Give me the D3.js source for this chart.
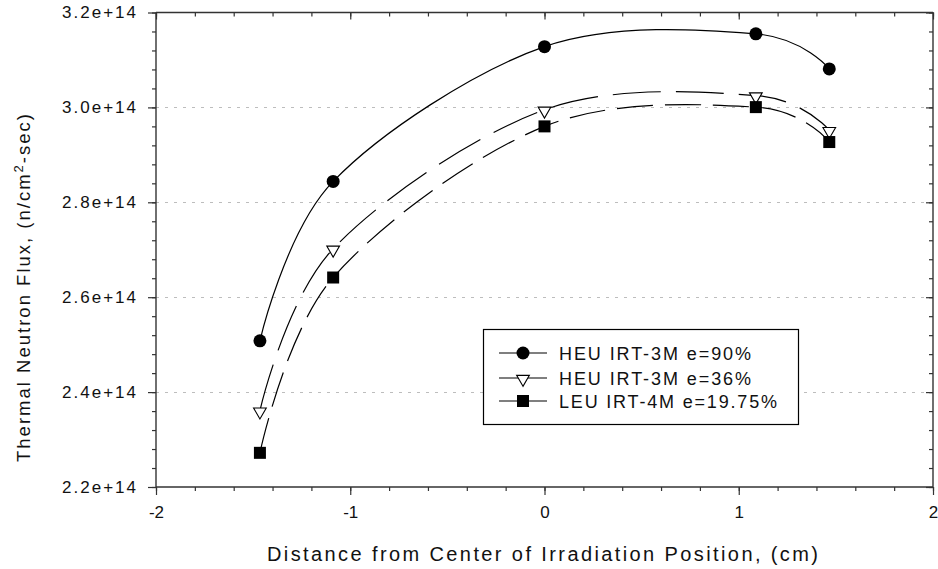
<!DOCTYPE html>
<html>
<head>
<meta charset="utf-8">
<script src="https://cdn.jsdelivr.net/npm/d3@7"></script>
<style>
  html, body { margin: 0; padding: 0; background: #fff; }
  svg { display: block; font-family: "Liberation Sans", Arial, sans-serif; }
</style>
</head>
<body>
<div id="chart"></div>
<script>
// ---- data ----
const xPositions = [-1.465, -1.088, 0, 1.088, 1.466];
const heu90 = [2.508e14, 2.844e14, 3.128e14, 3.155e14, 3.081e14];
const heu36 = [2.361e14, 2.702e14, 2.995e14, 3.025e14, 2.952e14];
const leu1975 = [2.272e14, 2.6415e14, 2.960e14, 3.0006e14, 2.927e14];
const seriesNames = ["HEU IRT-3M e=90%", "HEU IRT-3M e=36%", "LEU IRT-4M e=19.75%"];
const xTickValues = [-2, -1, 0, 1, 2];
const yTickValues = [2.2e14, 2.4e14, 2.6e14, 2.8e14, 3.0e14, 3.2e14];
const xTitle = "Distance from Center of Irradiation Position, (cm)";

(function () {
// ---- layout ----
const W = 938, H = 569;
const pL = 156, pR = 933, pT = 12.5, pB = 487;

const svg = d3.select("#chart").append("svg").attr("width", W).attr("height", H);

const x = d3.scaleLinear().domain([-2, 2]).range([pL, pR]);
const y = d3.scaleLinear().domain([2.2e14, 3.2e14]).range([pB, pT]);

const xMinor = d3.range(-2, 2.0001, 0.2).map(v => +v.toFixed(1));
const yMinor = d3.range(2.2e14, 3.2001e14, 0.04e14);

// gridlines
svg.append("g").selectAll("line")
  .data(yTickValues.filter(v => v > 2.2e14 && v < 3.2e14))
  .join("line")
  .attr("x1", pL).attr("x2", pR)
  .attr("y1", d => Math.round(y(d)) + 0.5).attr("y2", d => Math.round(y(d)) + 0.5)
  .attr("stroke", "#bdbdbd").attr("stroke-width", 1).attr("stroke-dasharray", "3,6");

const axisColor = "#333";
function styleAxis(g) {
  g.selectAll(".domain").remove();
  g.selectAll("line").attr("stroke", axisColor).attr("stroke-width", 1.2);
}

// minor ticks
svg.append("g").attr("transform", `translate(0,${pB})`)
  .call(d3.axisBottom(x).tickValues(xMinor).tickSize(4).tickFormat(""))
  .call(styleAxis);
svg.append("g").attr("transform", `translate(0,${pT})`)
  .call(d3.axisTop(x).tickValues(xMinor).tickSize(-4).tickFormat(""))
  .call(styleAxis);
svg.append("g").attr("transform", `translate(${pL},0)`)
  .call(d3.axisLeft(y).tickValues(yMinor).tickSize(4).tickFormat(""))
  .call(styleAxis);
svg.append("g").attr("transform", `translate(${pR},0)`)
  .call(d3.axisRight(y).tickValues(yMinor).tickSize(-4).tickFormat(""))
  .call(styleAxis);

// major ticks with labels
const gxb = svg.append("g").attr("transform", `translate(0,${pB})`)
  .call(d3.axisBottom(x).tickValues(xTickValues).tickSize(8).tickPadding(11)
        .tickFormat(d => d3.format("d")(d).replace("\u2212", "-")))
  .call(styleAxis);
gxb.selectAll("text").attr("font-size", 17).attr("fill", "#111")
  .attr("font-family", "Liberation Sans, Arial, sans-serif");

svg.append("g").attr("transform", `translate(0,${pT})`)
  .call(d3.axisTop(x).tickValues(xTickValues).tickSize(-7).tickFormat(""))
  .call(styleAxis);

const gyl = svg.append("g").attr("transform", `translate(${pL},0)`)
  .call(d3.axisLeft(y).tickValues(yTickValues).tickSize(8).tickPadding(12)
        .tickFormat(d => (d / 1e14).toFixed(1) + "e+14"))
  .call(styleAxis);
gyl.selectAll("text").attr("font-size", 17).attr("fill", "#111")
  .attr("font-family", "Liberation Sans, Arial, sans-serif")
  .attr("textLength", 74).attr("lengthAdjust", "spacing");

svg.append("g").attr("transform", `translate(${pR},0)`)
  .call(d3.axisRight(y).tickValues(yTickValues).tickSize(-7).tickFormat(""))
  .call(styleAxis);

// frame lines
const frame = svg.append("g").attr("stroke", axisColor).attr("stroke-width", 1.4);
frame.append("line").attr("x1", pL).attr("x2", pR).attr("y1", pB).attr("y2", pB);
frame.append("line").attr("x1", pL).attr("x2", pR).attr("y1", pT).attr("y2", pT);
frame.append("line").attr("x1", pL).attr("x2", pL).attr("y1", pT).attr("y2", pB);
frame.append("line").attr("x1", pR).attr("x2", pR).attr("y1", pT).attr("y2", pB);

// curves
const line = d3.line().x(d => x(d[0])).y(d => y(d[1])).curve(d3.curveCatmullRom.alpha(0));
const series = [
  { vals: heu90, dash: null, sym: "circle" },
  { vals: heu36, dash: "48,15", sym: "triangle" },
  { vals: leu1975, dash: "36,12", sym: "square" }
];
series.forEach(s => {
  const pts = xPositions.map((v, i) => [v, s.vals[i]]);
  svg.append("path").attr("d", line(pts)).attr("fill", "none")
    .attr("stroke", "#000").attr("stroke-width", 1.2)
    .attr("stroke-dasharray", s.dash);
});

function drawSymbol(g, type, cx, cy) {
  if (type === "circle") {
    g.append("circle").attr("cx", cx).attr("cy", cy).attr("r", 6.5).attr("fill", "#000");
  } else if (type === "triangle") {
    const sym = d3.symbol().type(d3.symbolTriangle).size(70);
    g.append("path").attr("d", sym()).attr("transform", `translate(${cx},${cy + 1}) rotate(180)`)
      .attr("fill", "#fff").attr("stroke", "#000").attr("stroke-width", 1.1);
  } else {
    g.append("rect").attr("x", cx - 6).attr("y", cy - 6).attr("width", 12).attr("height", 12).attr("fill", "#000");
  }
}
const symG = svg.append("g");
series.forEach(s => {
  xPositions.forEach((v, i) => drawSymbol(symG, s.sym, x(v), y(s.vals[i])));
});

// legend
const lg = svg.append("g");
lg.append("rect").attr("x", 483.5).attr("y", 329.5).attr("width", 315).attr("height", 95)
  .attr("fill", "#fff").attr("stroke", "#000").attr("stroke-width", 1.2);
const legendRowY = [353, 378, 401];
const legendTextLen = [192, 192, 218];
series.forEach((s, i) => {
  const ry = legendRowY[i];
  lg.append("line").attr("x1", 499).attr("x2", 547).attr("y1", ry).attr("y2", ry)
    .attr("stroke", "#000").attr("stroke-width", 1.2);
  drawSymbol(lg, s.sym, 523, ry);
  lg.append("text").attr("x", 559).attr("y", ry + 6.5).attr("font-size", 18).attr("fill", "#111")
    .attr("textLength", legendTextLen[i]).attr("lengthAdjust", "spacing")
    .text(seriesNames[i]);
});

// axis titles
svg.append("text").attr("x", (266.7 + 818.3) / 2).attr("y", 561)
  .attr("text-anchor", "middle").attr("font-size", 20).attr("fill", "#111")
  .attr("textLength", 551).attr("lengthAdjust", "spacing")
  .text(xTitle);

const yt = svg.append("text")
  .attr("transform", "translate(30,288) rotate(-90)")
  .attr("text-anchor", "middle").attr("font-size", 18.5).attr("fill", "#111")
  .attr("textLength", 348).attr("lengthAdjust", "spacing");
yt.append("tspan").text("Thermal Neutron Flux, (n/cm");
yt.append("tspan").attr("dy", -7).attr("font-size", 13).text("2");
yt.append("tspan").attr("dy", 7).text("-sec)");
})();
</script>
</body>
</html>
